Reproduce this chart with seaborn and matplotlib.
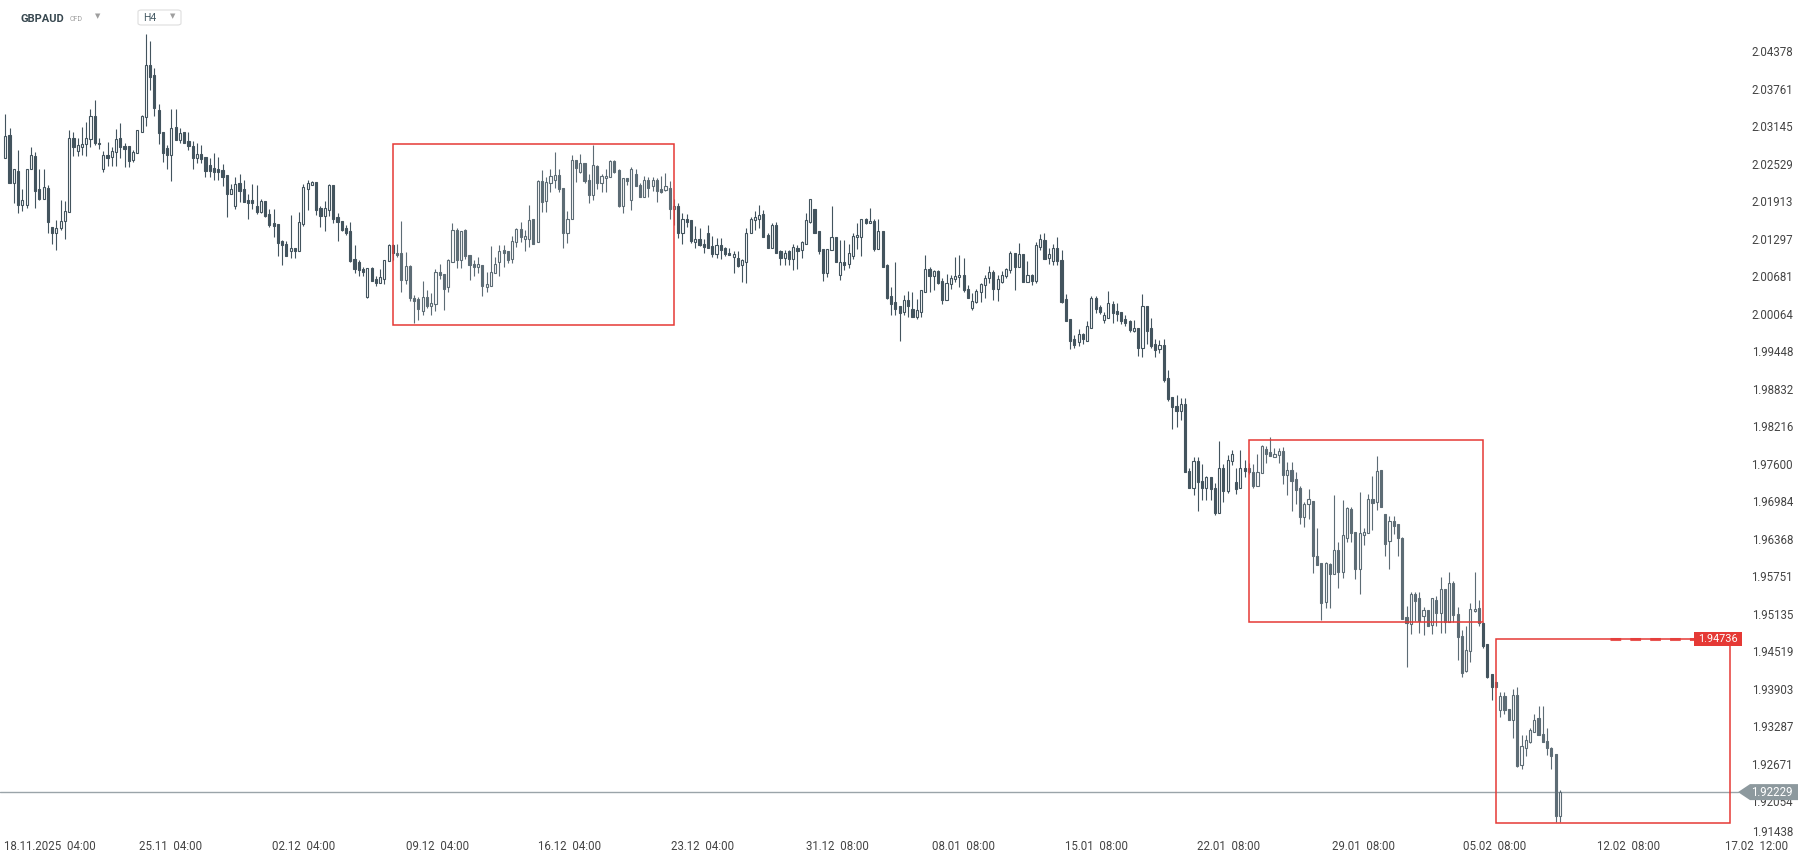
import numpy as np
import pandas as pd
import matplotlib
matplotlib.use("Agg")
import matplotlib.pyplot as plt
import matplotlib.transforms as mtransforms
from matplotlib.patches import Rectangle, Polygon, FancyBboxPatch
import seaborn as sns

# GBPAUD H4 candles (oldest first)
opens = [
    2.0264, 2.0302, 2.0223, 2.0243, 2.0187, 2.0187, 2.0246, 2.0268, 2.0213, 2.0198,
    2.0215, 2.0152, 2.0142, 2.0149, 2.0161, 2.0176, 2.0298, 2.0276, 2.0283, 2.0287,
    2.0296, 2.0334, 2.0290, 2.0246, 2.0270, 2.0266, 2.0274, 2.0297, 2.0284, 2.0284,
    2.0262, 2.0273, 2.0308, 2.0332, 2.0417, 2.0401, 2.0343, 2.0308, 2.0281, 2.0270,
    2.0315, 2.0294, 2.0308, 2.0292, 2.0285, 2.0265, 2.0271, 2.0266, 2.0253, 2.0248,
    2.0246, 2.0245, 2.0237, 2.0206, 2.0185, 2.0223, 2.0213, 2.0196, 2.0196, 2.0186,
    2.0176, 2.0194, 2.0172, 2.0158, 2.0156, 2.0129, 2.0124, 2.0112, 2.0116, 2.0112,
    2.0156, 2.0213, 2.0221, 2.0225, 2.0182, 2.0170, 2.0179, 2.0221, 2.0167, 2.0161,
    2.0149, 2.0145, 2.0099, 2.0093, 2.0082, 2.0036, 2.0084, 2.0065, 2.0060, 2.0065,
    2.0095, 2.0121, 2.0109, 2.0108, 2.0064, 2.0087, 2.0034, 2.0033, 2.0014, 2.0036,
    2.0022, 2.0024, 2.0077, 2.0074, 2.0052, 2.0094, 2.0146, 2.0097, 2.0146, 2.0106,
    2.0090, 2.0086, 2.0089, 2.0053, 2.0055, 2.0076, 2.0093, 2.0114, 2.0112, 2.0099,
    2.0126, 2.0148, 2.0132, 2.0131, 2.0164, 2.0126, 2.0226, 2.0194, 2.0223, 2.0229,
    2.0237, 2.0216, 2.0141, 2.0164, 2.0262, 2.0242, 2.0257, 2.0228, 2.0204, 2.0251,
    2.0223, 2.0231, 2.0234, 2.0260, 2.0245, 2.0186, 2.0231, 2.0196, 2.0239, 2.0221,
    2.0201, 2.0228, 2.0219, 2.0228, 2.0213, 2.0212, 2.0216, 2.0180, 2.0186, 2.0142,
    2.0165, 2.0162, 2.0127, 2.0132, 2.0123, 2.0142, 2.0120, 2.0107, 2.0121, 2.0117,
    2.0109, 2.0102, 2.0101, 2.0088, 2.0094, 2.0141, 2.0162, 2.0164, 2.0173, 2.0138,
    2.0117, 2.0154, 2.0112, 2.0101, 2.0111, 2.0098, 2.0116, 2.0113, 2.0124, 2.0160,
    2.0180, 2.0144, 2.0115, 2.0076, 2.0113, 2.0134, 2.0073, 2.0093, 2.0091, 2.0104,
    2.0134, 2.0134, 2.0164, 2.0157, 2.0161, 2.0115, 2.0144, 2.0089, 2.0038, 2.0028,
    2.0021, 2.0011, 2.0031, 2.0016, 2.0004, 2.0012, 2.0044, 2.0083, 2.0070, 2.0079,
    2.0062, 2.0032, 2.0058, 2.0066, 2.0069, 2.0072, 2.0049, 2.0018, 2.0028, 2.0044,
    2.0056, 2.0067, 2.0077, 2.0049, 2.0061, 2.0070, 2.0081, 2.0109, 2.0086, 2.0107,
    2.0061, 2.0072, 2.0063, 2.0119, 2.0130, 2.0101, 2.0096, 2.0116, 2.0097, 2.0033,
    2.0000, 1.9967, 1.9963, 1.9975, 1.9964, 1.9986, 2.0034, 2.0019, 1.9998, 2.0001,
    2.0025, 2.0013, 2.0011, 2.0000, 1.9997, 1.9981, 1.9985, 1.9953, 2.0021, 1.9985,
    1.9959, 1.9951, 1.9957, 1.9903, 1.9872, 1.9857, 1.9849, 1.9861, 1.9751, 1.9722,
    1.9767, 1.9734, 1.9723, 1.9741, 1.9722, 1.9681, 1.9756, 1.9718, 1.9767, 1.9732,
    1.9722, 1.9755, 1.9755, 1.9749, 1.9726, 1.9747, 1.9787, 1.9781, 1.9774, 1.9777,
    1.9783, 1.9743, 1.9752, 1.9737, 1.9722, 1.9675, 1.9696, 1.9701, 1.9611, 1.9599,
    1.9536, 1.9597, 1.9582, 1.9620, 1.9585, 1.9641, 1.9688, 1.9650, 1.9589, 1.9646,
    1.9648, 1.9704, 1.9700, 1.9752, 1.9679, 1.9635, 1.9668, 1.9663, 1.9641, 1.9510,
    1.9499, 1.9549, 1.9541, 1.9513, 1.9522, 1.9497, 1.9539, 1.9517, 1.9556, 1.9503,
    1.9567, 1.9515, 1.9479, 1.9422, 1.9455, 1.9520, 1.9525, 1.9501, 1.9466, 1.9417,
    1.9404, 1.9357, 1.9380, 1.9359, 1.9342, 1.9383, 1.9267, 1.9296, 1.9306, 1.9322,
    1.9345, 1.9318, 1.9307, 1.9295, 1.9285, 1.9184,
]
highs = [
    2.0337, 2.0314, 2.0246, 2.0278, 2.0214, 2.0247, 2.0283, 2.0274, 2.0246, 2.0246,
    2.0220, 2.0152, 2.0163, 2.0196, 2.0194, 2.0310, 2.0308, 2.0298, 2.0315, 2.0324,
    2.0345, 2.0360, 2.0298, 2.0276, 2.0291, 2.0283, 2.0312, 2.0322, 2.0289, 2.0285,
    2.0277, 2.0310, 2.0336, 2.0468, 2.0456, 2.0412, 2.0354, 2.0308, 2.0286, 2.0345,
    2.0345, 2.0314, 2.0308, 2.0308, 2.0293, 2.0290, 2.0286, 2.0266, 2.0264, 2.0272,
    2.0266, 2.0255, 2.0237, 2.0222, 2.0233, 2.0239, 2.0229, 2.0205, 2.0222, 2.0220,
    2.0198, 2.0194, 2.0181, 2.0181, 2.0156, 2.0130, 2.0128, 2.0171, 2.0117, 2.0176,
    2.0222, 2.0229, 2.0227, 2.0225, 2.0186, 2.0194, 2.0222, 2.0221, 2.0174, 2.0161,
    2.0154, 2.0160, 2.0121, 2.0097, 2.0086, 2.0084, 2.0086, 2.0070, 2.0082, 2.0097,
    2.0123, 2.0123, 2.0123, 2.0161, 2.0110, 2.0089, 2.0039, 2.0037, 2.0062, 2.0048,
    2.0042, 2.0082, 2.0091, 2.0074, 2.0099, 2.0157, 2.0149, 2.0145, 2.0148, 2.0106,
    2.0097, 2.0102, 2.0089, 2.0077, 2.0120, 2.0102, 2.0122, 2.0122, 2.0112, 2.0136,
    2.0150, 2.0160, 2.0146, 2.0187, 2.0164, 2.0228, 2.0245, 2.0234, 2.0246, 2.0274,
    2.0246, 2.0216, 2.0177, 2.0269, 2.0262, 2.0271, 2.0257, 2.0239, 2.0286, 2.0253,
    2.0239, 2.0246, 2.0262, 2.0262, 2.0246, 2.0232, 2.0232, 2.0249, 2.0246, 2.0223,
    2.0235, 2.0234, 2.0234, 2.0231, 2.0235, 2.0240, 2.0226, 2.0197, 2.0191, 2.0174,
    2.0172, 2.0162, 2.0153, 2.0149, 2.0132, 2.0154, 2.0136, 2.0133, 2.0133, 2.0119,
    2.0116, 2.0111, 2.0111, 2.0099, 2.0149, 2.0168, 2.0178, 2.0187, 2.0179, 2.0141,
    2.0157, 2.0159, 2.0113, 2.0113, 2.0113, 2.0123, 2.0122, 2.0128, 2.0175, 2.0198,
    2.0180, 2.0144, 2.0115, 2.0115, 2.0186, 2.0134, 2.0130, 2.0130, 2.0123, 2.0141,
    2.0157, 2.0165, 2.0166, 2.0183, 2.0165, 2.0164, 2.0144, 2.0090, 2.0052, 2.0094,
    2.0021, 2.0039, 2.0046, 2.0044, 2.0033, 2.0048, 2.0105, 2.0086, 2.0081, 2.0081,
    2.0067, 2.0074, 2.0072, 2.0102, 2.0105, 2.0101, 2.0056, 2.0042, 2.0050, 2.0060,
    2.0072, 2.0087, 2.0080, 2.0072, 2.0079, 2.0084, 2.0111, 2.0109, 2.0125, 2.0107,
    2.0096, 2.0074, 2.0126, 2.0140, 2.0141, 2.0116, 2.0124, 2.0134, 2.0114, 2.0041,
    2.0000, 1.9974, 1.9983, 1.9977, 1.9997, 2.0038, 2.0038, 2.0023, 2.0011, 2.0046,
    2.0030, 2.0027, 2.0011, 2.0006, 1.9998, 1.9999, 1.9985, 2.0041, 2.0021, 2.0001,
    1.9967, 1.9966, 1.9967, 1.9916, 1.9872, 1.9875, 1.9871, 1.9871, 1.9755, 1.9773,
    1.9773, 1.9762, 1.9742, 1.9741, 1.9731, 1.9800, 1.9762, 1.9777, 1.9785, 1.9756,
    1.9785, 1.9768, 1.9763, 1.9762, 1.9779, 1.9793, 1.9791, 1.9807, 1.9788, 1.9788,
    1.9790, 1.9765, 1.9765, 1.9749, 1.9725, 1.9700, 1.9720, 1.9701, 1.9656, 1.9599,
    1.9601, 1.9600, 1.9711, 1.9634, 1.9702, 1.9691, 1.9691, 1.9650, 1.9716, 1.9656,
    1.9712, 1.9742, 1.9775, 1.9752, 1.9679, 1.9676, 1.9676, 1.9663, 1.9642, 1.9529,
    1.9551, 1.9552, 1.9552, 1.9527, 1.9522, 1.9542, 1.9545, 1.9577, 1.9556, 1.9585,
    1.9570, 1.9527, 1.9490, 1.9495, 1.9533, 1.9584, 1.9538, 1.9502, 1.9466, 1.9417,
    1.9404, 1.9388, 1.9388, 1.9359, 1.9392, 1.9395, 1.9317, 1.9317, 1.9328, 1.9352,
    1.9364, 1.9364, 1.9328, 1.9297, 1.9285, 1.9226,
]
lows = [
    2.0264, 2.0223, 2.0191, 2.0175, 2.0178, 2.0182, 2.0246, 2.0183, 2.0196, 2.0198,
    2.0141, 2.0123, 2.0114, 2.0147, 2.0132, 2.0176, 2.0268, 2.0268, 2.0269, 2.0268,
    2.0283, 2.0286, 2.0280, 2.0242, 2.0252, 2.0252, 2.0252, 2.0265, 2.0250, 2.0250,
    2.0258, 2.0272, 2.0308, 2.0317, 2.0377, 2.0334, 2.0288, 2.0258, 2.0247, 2.0227,
    2.0294, 2.0290, 2.0290, 2.0278, 2.0247, 2.0256, 2.0256, 2.0234, 2.0234, 2.0228,
    2.0228, 2.0219, 2.0168, 2.0206, 2.0181, 2.0193, 2.0192, 2.0164, 2.0180, 2.0173,
    2.0174, 2.0168, 2.0152, 2.0135, 2.0103, 2.0089, 2.0103, 2.0101, 2.0101, 2.0111,
    2.0153, 2.0179, 2.0220, 2.0171, 2.0152, 2.0145, 2.0170, 2.0158, 2.0129, 2.0144,
    2.0138, 2.0093, 2.0075, 2.0070, 2.0071, 2.0034, 2.0062, 2.0055, 2.0059, 2.0058,
    2.0095, 2.0097, 2.0102, 2.0045, 2.0058, 2.0029, 1.9994, 1.9998, 2.0007, 2.0018,
    2.0007, 2.0014, 2.0066, 2.0015, 2.0045, 2.0094, 2.0084, 2.0084, 2.0099, 2.0064,
    2.0070, 2.0076, 2.0038, 2.0045, 2.0055, 2.0076, 2.0070, 2.0086, 2.0092, 2.0092,
    2.0119, 2.0127, 2.0112, 2.0119, 2.0124, 2.0126, 2.0176, 2.0176, 2.0209, 2.0216,
    2.0209, 2.0116, 2.0125, 2.0164, 2.0225, 2.0240, 2.0223, 2.0190, 2.0196, 2.0213,
    2.0209, 2.0208, 2.0233, 2.0240, 2.0184, 2.0174, 2.0220, 2.0179, 2.0219, 2.0201,
    2.0201, 2.0201, 2.0211, 2.0193, 2.0207, 2.0211, 2.0164, 2.0155, 2.0133, 2.0123,
    2.0152, 2.0125, 2.0117, 2.0120, 2.0109, 2.0116, 2.0102, 2.0101, 2.0098, 2.0103,
    2.0105, 2.0076, 2.0086, 2.0061, 2.0060, 2.0141, 2.0147, 2.0150, 2.0135, 2.0117,
    2.0116, 2.0109, 2.0088, 2.0089, 2.0088, 2.0080, 2.0082, 2.0101, 2.0124, 2.0157,
    2.0141, 2.0107, 2.0063, 2.0069, 2.0113, 2.0094, 2.0064, 2.0080, 2.0084, 2.0098,
    2.0115, 2.0104, 2.0156, 2.0157, 2.0112, 2.0115, 2.0085, 2.0033, 2.0007, 2.0007,
    1.9964, 2.0006, 2.0003, 2.0003, 2.0000, 2.0004, 2.0044, 2.0044, 2.0047, 2.0057,
    2.0024, 2.0032, 2.0050, 2.0061, 2.0053, 2.0045, 2.0034, 2.0015, 2.0026, 2.0028,
    2.0035, 2.0059, 2.0032, 2.0030, 2.0059, 2.0068, 2.0075, 2.0048, 2.0086, 2.0061,
    2.0061, 2.0056, 2.0060, 2.0113, 2.0099, 2.0091, 2.0089, 2.0089, 2.0026, 1.9997,
    1.9950, 1.9953, 1.9956, 1.9959, 1.9964, 1.9986, 2.0010, 2.0009, 1.9994, 2.0001,
    1.9994, 1.9996, 1.9992, 1.9988, 1.9978, 1.9979, 1.9940, 1.9938, 1.9959, 1.9952,
    1.9937, 1.9944, 1.9897, 1.9866, 1.9820, 1.9822, 1.9834, 1.9748, 1.9722, 1.9711,
    1.9685, 1.9703, 1.9703, 1.9703, 1.9678, 1.9681, 1.9700, 1.9715, 1.9760, 1.9712,
    1.9722, 1.9740, 1.9745, 1.9723, 1.9726, 1.9747, 1.9764, 1.9775, 1.9774, 1.9763,
    1.9729, 1.9711, 1.9685, 1.9696, 1.9664, 1.9659, 1.9672, 1.9583, 1.9596, 1.9505,
    1.9526, 1.9526, 1.9582, 1.9559, 1.9575, 1.9634, 1.9633, 1.9573, 1.9549, 1.9629,
    1.9648, 1.9653, 1.9686, 1.9692, 1.9610, 1.9589, 1.9647, 1.9610, 1.9507, 1.9428,
    1.9483, 1.9504, 1.9484, 1.9481, 1.9495, 1.9483, 1.9495, 1.9485, 1.9485, 1.9503,
    1.9503, 1.9440, 1.9412, 1.9420, 1.9437, 1.9518, 1.9496, 1.9460, 1.9410, 1.9375,
    1.9396, 1.9347, 1.9351, 1.9342, 1.9311, 1.9264, 1.9261, 1.9282, 1.9303, 1.9321,
    1.9317, 1.9305, 1.9284, 1.9261, 1.9173, 1.9173,
]
closes = [
    2.0301, 2.0223, 2.0246, 2.0187, 2.0195, 2.0247, 2.0270, 2.0210, 2.0198, 2.0217,
    2.0160, 2.0142, 2.0150, 2.0161, 2.0178, 2.0298, 2.0282, 2.0286, 2.0288, 2.0298,
    2.0334, 2.0289, 2.0287, 2.0269, 2.0265, 2.0276, 2.0296, 2.0282, 2.0280, 2.0259,
    2.0275, 2.0310, 2.0334, 2.0417, 2.0398, 2.0347, 2.0305, 2.0273, 2.0270, 2.0314,
    2.0294, 2.0306, 2.0290, 2.0284, 2.0265, 2.0271, 2.0263, 2.0244, 2.0244, 2.0242,
    2.0242, 2.0234, 2.0206, 2.0213, 2.0222, 2.0211, 2.0192, 2.0191, 2.0191, 2.0176,
    2.0194, 2.0169, 2.0155, 2.0153, 2.0125, 2.0122, 2.0103, 2.0116, 2.0112, 2.0159,
    2.0217, 2.0223, 2.0225, 2.0179, 2.0170, 2.0183, 2.0221, 2.0164, 2.0160, 2.0147,
    2.0142, 2.0096, 2.0082, 2.0080, 2.0077, 2.0084, 2.0062, 2.0059, 2.0069, 2.0097,
    2.0121, 2.0108, 2.0106, 2.0064, 2.0087, 2.0034, 2.0030, 2.0016, 2.0036, 2.0022,
    2.0026, 2.0077, 2.0072, 2.0050, 2.0097, 2.0146, 2.0097, 2.0145, 2.0103, 2.0088,
    2.0086, 2.0091, 2.0054, 2.0058, 2.0078, 2.0091, 2.0112, 2.0109, 2.0097, 2.0128,
    2.0148, 2.0134, 2.0136, 2.0163, 2.0124, 2.0226, 2.0193, 2.0225, 2.0235, 2.0237,
    2.0214, 2.0141, 2.0165, 2.0262, 2.0248, 2.0256, 2.0226, 2.0203, 2.0253, 2.0223,
    2.0235, 2.0235, 2.0260, 2.0242, 2.0185, 2.0231, 2.0226, 2.0246, 2.0219, 2.0201,
    2.0228, 2.0216, 2.0228, 2.0211, 2.0209, 2.0219, 2.0180, 2.0186, 2.0142, 2.0165,
    2.0160, 2.0128, 2.0132, 2.0121, 2.0119, 2.0117, 2.0107, 2.0121, 2.0113, 2.0107,
    2.0105, 2.0107, 2.0087, 2.0097, 2.0142, 2.0165, 2.0168, 2.0171, 2.0135, 2.0117,
    2.0154, 2.0109, 2.0101, 2.0108, 2.0098, 2.0118, 2.0112, 2.0127, 2.0163, 2.0198,
    2.0141, 2.0112, 2.0076, 2.0115, 2.0134, 2.0094, 2.0093, 2.0089, 2.0108, 2.0137,
    2.0138, 2.0164, 2.0157, 2.0161, 2.0115, 2.0144, 2.0085, 2.0034, 2.0025, 2.0017,
    2.0010, 2.0031, 2.0022, 2.0004, 2.0015, 2.0047, 2.0083, 2.0070, 2.0079, 2.0060,
    2.0032, 2.0060, 2.0068, 2.0070, 2.0072, 2.0047, 2.0034, 2.0030, 2.0046, 2.0057,
    2.0067, 2.0077, 2.0049, 2.0065, 2.0072, 2.0082, 2.0109, 2.0086, 2.0107, 2.0061,
    2.0072, 2.0063, 2.0122, 2.0131, 2.0099, 2.0107, 2.0116, 2.0095, 2.0028, 1.9997,
    1.9964, 1.9958, 1.9975, 1.9967, 1.9988, 2.0035, 2.0017, 2.0011, 2.0007, 2.0026,
    2.0010, 2.0008, 1.9997, 1.9994, 1.9982, 1.9985, 1.9953, 2.0021, 1.9981, 1.9956,
    1.9949, 1.9957, 1.9900, 1.9869, 1.9856, 1.9849, 1.9861, 1.9748, 1.9722, 1.9767,
    1.9733, 1.9723, 1.9741, 1.9720, 1.9681, 1.9756, 1.9718, 1.9768, 1.9778, 1.9720,
    1.9755, 1.9751, 1.9748, 1.9726, 1.9748, 1.9791, 1.9779, 1.9775, 1.9778, 1.9783,
    1.9743, 1.9752, 1.9734, 1.9719, 1.9675, 1.9696, 1.9704, 1.9610, 1.9596, 1.9534,
    1.9599, 1.9581, 1.9620, 1.9585, 1.9646, 1.9689, 1.9648, 1.9589, 1.9648, 1.9650,
    1.9705, 1.9698, 1.9751, 1.9692, 1.9631, 1.9668, 1.9660, 1.9641, 1.9508, 1.9501,
    1.9549, 1.9537, 1.9504, 1.9522, 1.9495, 1.9541, 1.9517, 1.9556, 1.9503, 1.9566,
    1.9514, 1.9477, 1.9419, 1.9457, 1.9523, 1.9523, 1.9501, 1.9463, 1.9412, 1.9396,
    1.9396, 1.9380, 1.9357, 1.9342, 1.9383, 1.9266, 1.9299, 1.9308, 1.9325, 1.9342,
    1.9317, 1.9305, 1.9295, 1.9283, 1.9184, 1.9223,
]

# time axis: candle index where each date label sits
tick_idx = [-0.3, 38.9, 70.1, 101.4, 132.6, 163.8, 195.3, 224.9, 256.3, 287.3, 318.8, 349.8, 381.2, 411.3]
tick_labels = ["18.11.2025  04:00", "25.11  04:00", "02.12  04:00", "09.12  04:00", "16.12  04:00",
               "23.12  04:00", "31.12  08:00", "08.01  08:00", "15.01  08:00", "22.01  08:00",
               "29.01  08:00", "05.02  08:00", "12.02  08:00", "17.02  12:00"]

price_ticks = [2.04378, 2.03761, 2.03145, 2.02529, 2.01913, 2.01297, 2.00681, 2.00064,
               1.99448, 1.98832, 1.98216, 1.97600, 1.96984, 1.96368, 1.95751, 1.95135,
               1.94519, 1.93903, 1.93287, 1.92671, 1.92054, 1.91438]

# marked zones (candle index from/to, price low/high)
zone_from = [91.1, 292.0, 349.9]
zone_to = [157.0, 346.9, 404.9]
zone_low = [1.9990, 1.95017, 1.91726]
zone_high = [2.0287, 1.98007, 1.94736]

order_price = 1.94736
last_price = 1.92229

assert len(opens) == len(highs) == len(lows) == len(closes)

df = pd.DataFrame({"open": opens, "high": highs, "low": lows, "close": closes})
df["i"] = np.arange(len(df))
df["high"] = df[["high", "open", "close"]].max(axis=1)
df["low"] = df[["low", "open", "close"]].min(axis=1)
df["up"] = df["close"] >= df["open"]
df["in_zone"] = False
for a, b in zip(zone_from, zone_to):
    df.loc[(df["i"] >= a) & (df["i"] <= b), "in_zone"] = True

sns.set_theme(style="white")
plt.rcParams["font.family"] = ["Roboto", "DejaVu Sans"]

W, H = 1810, 865
fig = plt.figure(figsize=(W / 100, H / 100), dpi=100)
ax = fig.add_axes([0, 0, 1, 1])

# pixel layout of the screenshot: candle 0 at x=5.3, 4.259 px per candle
x0_px, step_px = 5.3, 4.259
def xi(px):
    return (px - x0_px) / step_px

top_price, px_per = 2.05241, 0.00016427
ax.set_xlim(xi(0), xi(W))
ax.set_ylim(top_price - px_per * H, top_price)
ax.axis("off")

dark = "#43545e"
soft = "#5d6c75"
col = np.where(df["in_zone"], soft, dark)

ax.vlines(df["i"], df["low"], df["high"], colors=col, lw=0.8, zorder=2)
body_lo = df[["open", "close"]].min(axis=1)
body_h = (df["close"] - df["open"]).abs().clip(lower=0.00008)
face = np.where(df["up"], "white", col)
ax.bar(df["i"], body_h, bottom=body_lo, width=0.5, color=face, edgecolor=col,
       linewidth=0.8, zorder=3)

# red zones
for a, b, lo, hi in zip(zone_from, zone_to, zone_low, zone_high):
    ax.add_patch(Rectangle((a, lo), b - a, hi - lo, fill=False, ec="#e53935", lw=1.1, zorder=4))

# last price line and pending order line
ax.plot([xi(0), xi(1738)], [last_price, last_price], color="#9aa4a9", lw=1, zorder=1)
ax.plot([xi(1610), xi(1694)], [order_price + 0.00003, order_price + 0.00003], color="#e53935",
        lw=2.2, dashes=(3.5, 3), alpha=0.85, zorder=5)

blend = mtransforms.blended_transform_factory(ax.transAxes, ax.transData)
label_floor = top_price - px_per * 833
for p in price_ticks:
    ax.text(1793 / W, max(p, label_floor), f"{p:.5f}", transform=blend, ha="right",
            va="center", fontsize=8.3, color="#444444", zorder=5)

# price tags
dy = px_per * 7
ax.add_patch(Rectangle((1694 / W, order_price - dy), 48 / W, 2 * dy, transform=blend,
                       fc="#e53935", ec="none", zorder=6))
ax.text(1718 / W, order_price, f"{order_price:.5f}", transform=blend, ha="center",
        va="center", fontsize=7.8, color="white", zorder=7)

dy = px_per * 8
tag = [(1738 / W, last_price), (1750 / W, last_price + dy), (1798 / W, last_price + dy),
       (1798 / W, last_price - dy), (1750 / W, last_price - dy)]
ax.add_patch(Polygon(tag, closed=True, transform=blend, fc="#8d999e", ec="none", zorder=6))
ax.text(1793 / W, last_price, f"{last_price:.5f}", transform=blend, ha="right",
        va="center", fontsize=8.3, color="white", zorder=7)

# date labels
tblend = mtransforms.blended_transform_factory(ax.transData, ax.transAxes)
for k, (pos, lab) in enumerate(zip(tick_idx, tick_labels)):
    ax.text(pos, 1 - 846 / H, lab, transform=tblend, ha="left" if k == 0 else "center",
            va="center", fontsize=8.3, color="#444444")

# header
fig.text(20.7 / W, 1 - 19 / H, "GBPAUD", fontsize=8, fontweight="bold", color="#37474f", va="center")
fig.text(70 / W, 1 - 19.5 / H, "CFD", fontsize=5, color="#9e9e9e", va="center")
fig.text(95 / W, 1 - 16 / H, "▼", fontsize=5, color="#9e9e9e", va="center",
         family=["DejaVu Sans"])
fig.patches.append(FancyBboxPatch((138 / W, 1 - 25 / H), 43 / W, 15 / H,
                                  boxstyle="round,pad=0,rounding_size=0.002",
                                  transform=fig.transFigure, fc="white", ec="#dddddd", lw=0.8))
fig.text(143 / W, 1 - 18 / H, "H4", fontsize=7.5, color="#455a64", va="center")
fig.text(170 / W, 1 - 16 / H, "▼", fontsize=5, color="#9e9e9e", va="center",
         family=["DejaVu Sans"])

fig.savefig("out.png", dpi=100)
